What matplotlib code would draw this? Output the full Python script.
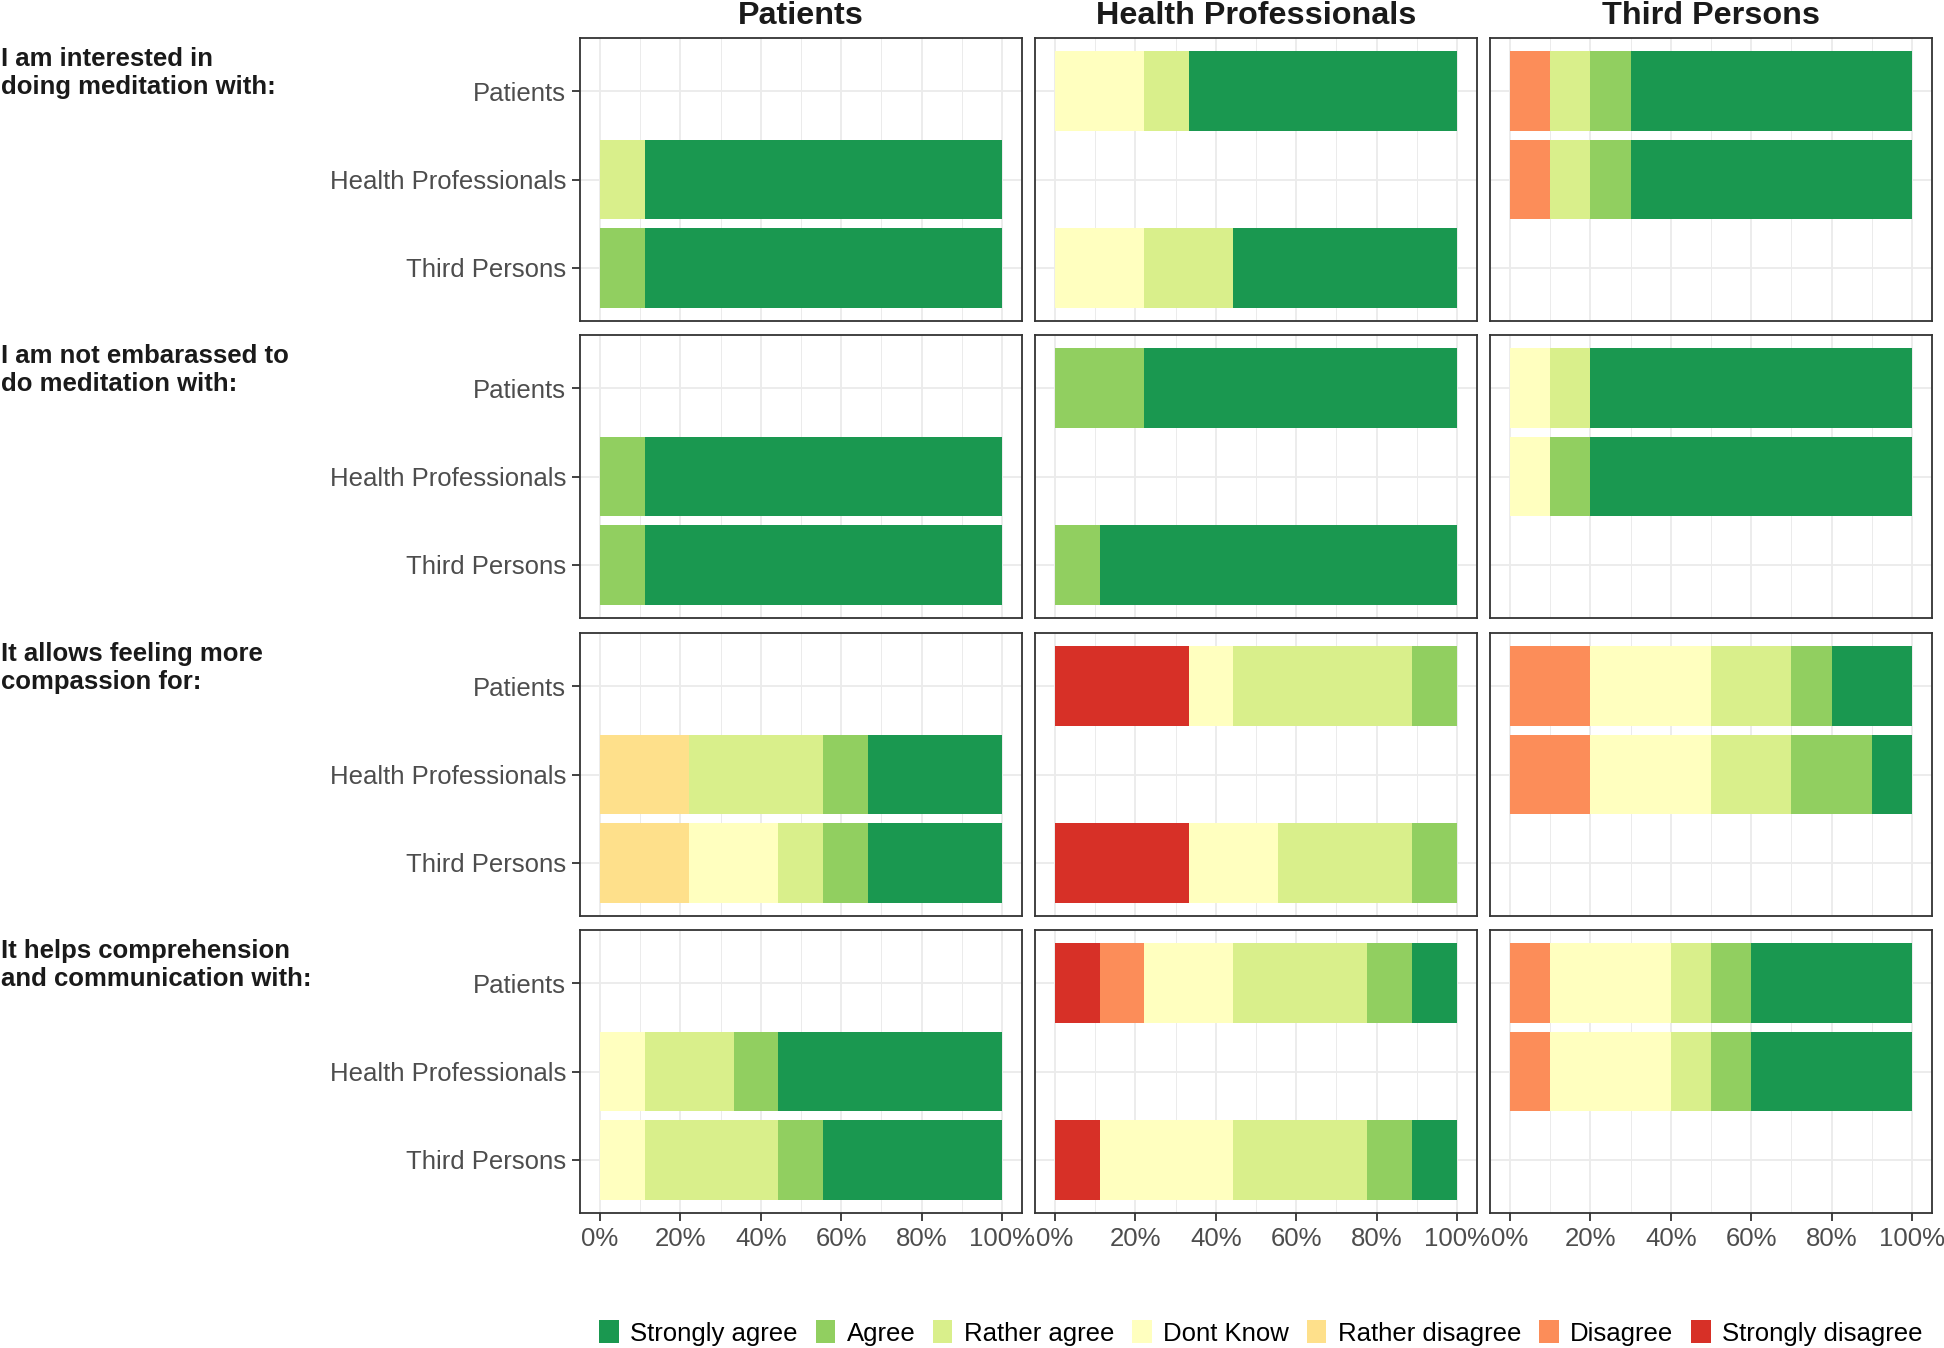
import matplotlib.pyplot as plt
from matplotlib.ticker import MultipleLocator, FuncFormatter

plt.rcParams['font.family'] = ['Liberation Sans', 'DejaVu Sans']

# respondent groups (columns) and targets (bars inside each panel)
groups = ["Patients", "Health Professionals", "Third Persons"]
targets = ["Patients", "Health Professionals", "Third Persons"]
levels = ["Strongly disagree", "Disagree", "Rather disagree", "Dont Know",
          "Rather agree", "Agree", "Strongly agree"]
level_colors = ["#d73027", "#fc8d59", "#fee08b", "#ffffbf",
                "#d9ef8b", "#91cf60", "#1a9850"]
questions = ["I am interested in\ndoing meditation with:",
             "I am not embarassed to\ndo meditation with:",
             "It allows feeling more\ncompassion for:",
             "It helps comprehension\nand communication with:"]

# percentages per level (SD, D, RD, DK, RA, A, SA); [group][target]
empty = [0, 0, 0, 0, 0, 0, 0]
interest = [
    [empty, [0, 0, 0, 0, 11.1, 0, 88.9], [0, 0, 0, 0, 0, 11.1, 88.9]],
    [[0, 0, 0, 22.2, 11.1, 0, 66.7], empty, [0, 0, 0, 22.2, 22.2, 0, 55.6]],
    [[0, 10, 0, 0, 10, 10, 70], [0, 10, 0, 0, 10, 10, 70], empty],
]
embarrassed = [
    [empty, [0, 0, 0, 0, 0, 11.1, 88.9], [0, 0, 0, 0, 0, 11.1, 88.9]],
    [[0, 0, 0, 0, 0, 22.2, 77.8], empty, [0, 0, 0, 0, 0, 11.1, 88.9]],
    [[0, 0, 0, 10, 10, 0, 80], [0, 0, 0, 10, 0, 10, 80], empty],
]
compassion = [
    [empty, [0, 0, 22.2, 0, 33.3, 11.1, 33.3], [0, 0, 22.2, 22.2, 11.1, 11.1, 33.3]],
    [[33.3, 0, 0, 11.1, 44.4, 11.1, 0], empty, [33.3, 0, 0, 22.2, 33.3, 11.1, 0]],
    [[0, 20, 0, 30, 20, 10, 20], [0, 20, 0, 30, 20, 20, 10], empty],
]
comprehension = [
    [empty, [0, 0, 0, 11.1, 22.2, 11.1, 55.6], [0, 0, 0, 11.1, 33.3, 11.1, 44.4]],
    [[11.1, 11.1, 0, 22.2, 33.3, 11.1, 11.1], empty, [11.1, 0, 0, 33.3, 33.3, 11.1, 11.1]],
    [[0, 10, 0, 30, 10, 10, 40], [0, 10, 0, 30, 10, 10, 40], empty],
]
all_data = [interest, embarrassed, compassion, comprehension]

W, H = 1944, 1348
fig = plt.figure(figsize=(W / 100, H / 100), dpi=100)

col_left = [580, 1035, 1490]
row_top = [38, 335, 633, 930]
pw, ph = 442, 283
ypos = [3, 2, 1]

handles = {}
for r, data in enumerate(all_data):
    for c in range(3):
        ax = fig.add_axes([col_left[c] / W, 1 - (row_top[r] + ph) / H, pw / W, ph / H])
        for t in range(3):
            left = 0
            for k, lev in enumerate(levels):
                v = data[c][t][k]
                b = ax.barh(ypos[t], v, left=left, height=0.9,
                            color=level_colors[k], edgecolor='none', zorder=2)
                handles[lev] = b
                left += v
        ax.set_xlim(-5, 105)
        ax.set_ylim(0.4, 3.6)
        ax.set_yticks(ypos)
        ax.set_yticklabels(targets)
        ax.xaxis.set_major_locator(MultipleLocator(20))
        ax.xaxis.set_minor_locator(MultipleLocator(10))
        ax.xaxis.set_major_formatter(FuncFormatter(lambda x, p: f"{x:.0f}%"))
        ax.set_axisbelow(True)
        ax.grid(which='major', color='#ebebeb', lw=1.3, zorder=0)
        ax.grid(which='minor', axis='x', color='#ebebeb', lw=0.7, zorder=0)
        for s in ax.spines.values():
            s.set_color('#333333')
            s.set_linewidth(1.3)
        ax.tick_params(which='minor', length=0)
        ax.tick_params(axis='both', which='major', color='#333333', width=1.3,
                       length=6, labelsize=18.5, labelcolor='#4d4d4d', pad=4)
        if c > 0:
            ax.tick_params(axis='y', length=0, labelleft=False)
        if r < 3:
            ax.tick_params(axis='x', length=0, labelbottom=False)
        if r == 0:
            fig.text((col_left[c] + pw / 2) / W, 1 - 16 / H, groups[c],
                     ha='center', va='center', fontsize=23.3, weight='bold',
                     color='#1a1a1a')
    fig.text(1 / W, 1 - (row_top[r] + 9) / H, questions[r], ha='left', va='top',
             fontsize=18.5, weight='bold', color='#1a1a1a', linespacing=1.2)

order = levels[::-1]
fig.legend([handles[l] for l in order], order, ncol=7, loc='center',
           bbox_to_anchor=(1261 / W, 1 - 1333 / H), frameon=False,
           fontsize=18.5, handlelength=0.75, handleheight=1.0,
           columnspacing=0.7, handletextpad=0.45, borderaxespad=0)

fig.savefig("out.png", dpi=100)
